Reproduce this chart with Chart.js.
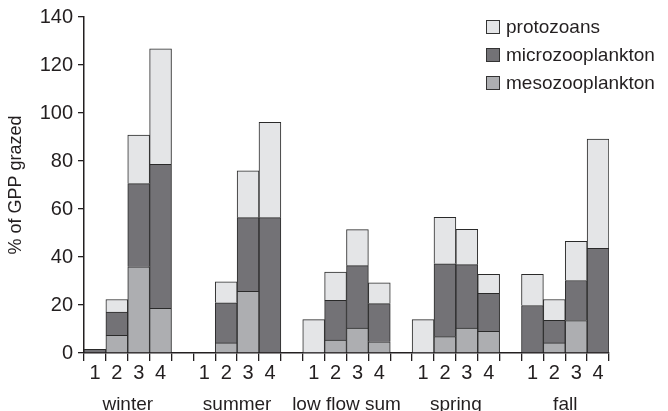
<!DOCTYPE html>
<html>
<head>
<meta charset="utf-8">
<script src="https://cdn.jsdelivr.net/npm/chart.js@4"></script>
<style>
  html, body { margin: 0; padding: 0; background: #fff; }
  #wrap { position: relative; width: 668px; height: 411px; }
  #legend { position: absolute; left: 486px; top: 13px; font: 19px "Liberation Sans", Arial, sans-serif; color: #231f20; }
  #legend div { height: 28px; display: flex; align-items: center; }
  #legend span.box { width: 12px; height: 12px; border: 1px solid #333; margin-right: 6px; display: inline-block; }
</style>
</head>
<body>
<div id="wrap">
  <canvas id="c" width="668" height="411"></canvas>
  <div id="legend"></div>
</div>
<script>
const groups = ["winter", "summer", "low flow sum", "spring", "fall"]
const stations = ["1", "2", "3", "4"]
const yTicks = [0, 20, 40, 60, 80, 100, 120, 140]

// stacked increments per group, stations 1-4 (null = no bar)
const mesozooplankton = [
  [null, 7.4, 35.9, 18.6],
  [null, 4.2, 25.7, null],
  [null, 5.4, 10.4, 4.7],
  [null, 6.8, 10.4, 9.0],
  [null, 4.2, 13.5, null]
]
const microzooplankton = [
  [1.5, 9.6, 34.7, 60.0],
  [null, 16.7, 30.7, 56.4],
  [null, 16.5, 26.0, 15.9],
  [null, 30.4, 26.4, 15.9],
  [19.8, 9.4, 16.7, 43.6]
]
const protozoans = [
  [null, 5.3, 20.2, 48.1],
  [null, 8.8, 19.5, 39.7],
  [13.9, 11.8, 15.0, 8.6],
  [13.9, 19.3, 14.7, 7.9],
  [13.0, 8.7, 16.3, 45.5]
]

const ink = "#231f20"
const family = "'Liberation Sans', Arial, sans-serif"
const font = { family, size: 19 }
const numFont = { family, size: 20 }

// one slot per station, with an empty slot between groups
const labels = []
const flat = rows => {
  const out = []
  rows.forEach((r, i) => {
    if (i > 0) out.push(null)
    out.push(...r)
  })
  return out
}
groups.forEach((g, i) => {
  if (i > 0) labels.push("")
  labels.push(...stations)
})
const groupCenters = groups.map((g, i) => i * 5 + 2)

const series = [
  { label: "mesozooplankton", data: flat(mesozooplankton), color: "#adaeb1" },
  { label: "microzooplankton", data: flat(microzooplankton), color: "#737276" },
  { label: "protozoans", data: flat(protozoans), color: "#e4e5e7" }
]

new Chart(document.getElementById("c"), {
  type: "bar",
  data: {
    labels,
    datasets: series.map(s => ({
      label: s.label,
      data: s.data,
      backgroundColor: s.color,
      borderColor: "#2a2a2a",
      borderWidth: 1,
      barPercentage: 1,
      categoryPercentage: 1
    }))
  },
  options: {
    responsive: false,
    animation: false,
    layout: { padding: { top: 17, right: 59, left: 0, bottom: 0 } },
    plugins: { legend: { display: false }, tooltip: { enabled: false } },
    scales: {
      x: {
        stacked: true,
        offset: true,
        grid: { offset: true, drawOnChartArea: false, drawTicks: true, tickLength: 8, color: ink, lineWidth: 1.3 },
        border: { color: ink, width: 1.5 },
        ticks: { color: ink, font: numFont, padding: 0, autoSkip: false, maxRotation: 0 },
        afterFit: s => { s.height = 32 }
      },
      x2: {
        type: "linear",
        position: "bottom",
        offset: false,
        min: 0,
        max: 24,
        grid: { display: false, drawTicks: false },
        border: { display: false },
        afterBuildTicks: s => { s.ticks = groupCenters.map(v => ({ value: v })) },
        ticks: {
          color: ink, font, padding: 8, autoSkip: false, maxRotation: 0,
          callback: v => groups[groupCenters.indexOf(v)]
        },
        afterFit: s => { s.height = 26 }
      },
      y: {
        stacked: true,
        min: 0,
        max: 140,
        afterBuildTicks: s => { s.ticks = yTicks.map(v => ({ value: v })) },
        grid: { drawOnChartArea: false, drawTicks: true, tickLength: 6, color: ink, lineWidth: 1.3 },
        border: { color: ink, width: 1.5 },
        ticks: { color: ink, font: numFont, padding: 5 },
        title: { display: true, text: "% of GPP grazed", color: ink, font: { family, size: 18 }, padding: { top: 5, bottom: 0 } },
        afterFit: s => { s.width = 84 }
      }
    }
  }
})

// legend, top entry first
const legend = document.getElementById("legend")
series.slice().reverse().forEach(s => {
  const row = document.createElement("div")
  row.innerHTML = `<span class="box" style="background:${s.color}"></span>${s.label}`
  legend.appendChild(row)
})
</script>
</body>
</html>
